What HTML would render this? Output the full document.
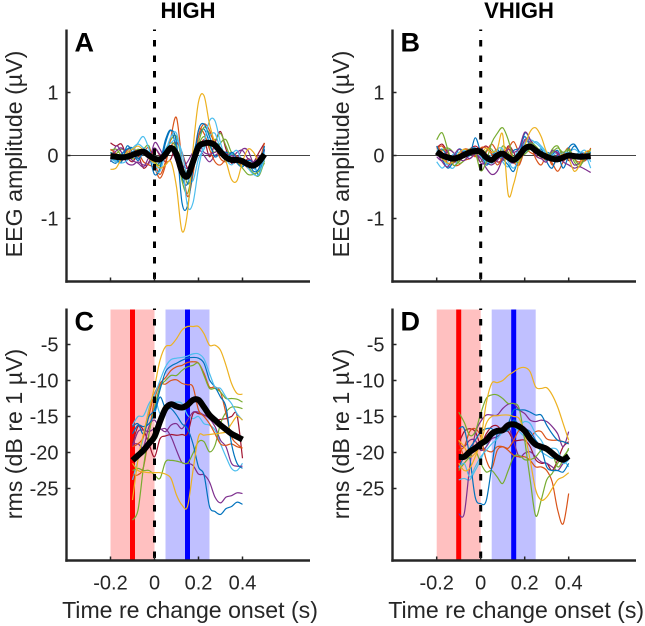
<!DOCTYPE html>
<html lang="en">
<head>
<meta charset="utf-8">
<title>EEG amplitude and rms, HIGH and VHIGH</title>
<style>
html,body{margin:0;padding:0;background:#fff;}
svg{display:block;font-family:"Liberation Sans",Arial,sans-serif;}
</style>
</head>
<body>
<svg id="chart" width="645" height="626" viewBox="0 0 645 626" xmlns="http://www.w3.org/2000/svg"></svg>
<script>
var timesEeg = [-0.2,-0.175,-0.15,-0.125,-0.1,-0.075,-0.05,-0.025,0,0.025,0.05,0.075,0.1,0.125,0.15,0.175,0.2,0.225,0.25,0.275,0.3,0.325,0.35,0.375,0.4,0.425,0.45,0.475,0.5];
var timesRms = [-0.1,-0.075,-0.05,-0.025,0,0.025,0.05,0.075,0.1,0.125,0.15,0.175,0.2,0.225,0.25,0.275,0.3,0.325,0.35,0.375,0.4];

var eegTicks = [1,0,-1];
var rmsTicks = [-5,-10,-15,-20,-25];
var timeTicks = [-0.2,0,0.2,0.4];
var timeTickLabels = ["-0.2","0","0.2","0.4"];
var preWindow = [-0.2,0];
var postWindow = [0.05,0.25];
var preLine = -0.1;
var postLine = 0.15;

var colorsA = ["#77AC30","#A2142F","#7E2F8E","#D95319","#0072BD","#77AC30","#D95319","#7E2F8E","#4DBEEE","#0072BD","#4DBEEE","#EDB120"];
var seriesA = [
 [0.05,0.03,0.1,0.05,-0.05,-0.02,0.1,0.15,-0.15,-0.1,0.05,0.25,0.3,-0.1,-0.45,-0.25,0.15,0.3,0.15,0.05,0.2,0.25,0.05,-0.02,-0.1,-0.18,-0.28,-0.32,-0.08],
 [0.2,0.15,0.18,-0.02,-0.1,0,-0.2,-0.1,0.1,0,-0.1,-0.05,0.2,0.05,-0.2,-0.15,0.05,0.25,-0.02,0.2,0.38,0.1,-0.12,-0.1,-0.15,-0.05,-0.1,0.05,0.2],
 [-0.1,0.15,0.05,-0.12,-0.15,-0.1,-0.15,-0.12,0.2,0.1,-0.05,0.1,-0.1,-0.2,-0.1,0.05,0.1,0,-0.1,0,0.05,0.05,-0.05,0.05,0.08,-0.05,-0.1,-0.02,0.05],
 [0.02,-0.08,-0.04,0.08,0.12,0.02,0.06,0.12,-0.12,-0.3,-0.1,0.15,0.2,0.05,-0.35,-0.1,0.4,0.35,0.1,-0.1,-0.15,-0.05,0.05,-0.02,-0.1,-0.2,-0.15,-0.08,0.1],
 [-0.08,-0.12,0.02,0.1,0.12,-0.05,0.05,0.05,-0.12,-0.1,0.25,0.4,0.1,-0.35,-0.45,0,0.3,0.42,0.2,-0.02,0.05,0.05,0.02,-0.12,-0.18,-0.08,-0.12,-0.3,0.1],
 [0.08,0.1,0,-0.05,0.02,0.1,0.05,-0.05,-0.1,-0.15,0.1,0.2,0.1,-0.4,-0.6,-0.2,0.2,0.45,0.35,0.25,0.35,0.15,-0.05,-0.1,-0.2,-0.3,-0.3,-0.25,-0.12],
 [0.1,0.03,-0.08,0,0.1,0.05,-0.1,-0.15,-0.2,-0.36,-0.15,0.3,0.6,-0.1,-0.65,-0.3,0.3,0.5,0.4,0.15,-0.05,-0.1,-0.05,-0.1,-0.15,-0.1,-0.18,-0.1,0.2],
 [-0.03,0.07,0.12,0.02,-0.08,-0.12,-0.18,-0.02,0.12,0.02,-0.03,0.08,-0.08,-0.15,-0.2,-0.02,0.18,0.05,0.02,0.05,0.08,0.02,0,-0.04,0.1,0.08,-0.12,-0.05,0.08],
 [-0.03,-0.08,-0.05,0.05,0.12,0.18,0.12,0.05,-0.15,-0.18,0.1,0.2,0.25,0.05,-0.35,-0.4,-0.05,0.1,0.3,0.35,0.1,0,0.02,0.08,-0.1,-0.1,-0.2,-0.22,0.05],
 [0.05,-0.05,-0.1,0.15,0.05,-0.08,0.05,0,-0.3,-0.2,0.2,0.4,0.2,-0.75,-0.8,-0.2,0.4,0.5,0.3,0.1,0.1,-0.1,0.05,-0.05,-0.15,-0.1,-0.25,-0.2,0.15],
 [-0.05,-0.1,-0.12,-0.08,0.05,0.2,0.3,0.1,-0.2,-0.25,0.05,0.3,0.35,-0.1,-0.8,-0.75,-0.2,0.2,0.55,0.55,0.2,-0.05,-0.15,-0.05,-0.1,-0.2,-0.3,-0.3,-0.05],
 [-0.22,-0.2,-0.05,0.05,0.1,0.15,0.08,-0.05,-0.12,-0.2,-0.15,-0.1,-0.5,-1.2,-0.9,0.1,0.85,0.95,0.5,0.2,0.02,-0.1,-0.38,-0.4,-0.1,0.1,0.05,-0.1,-0.05]
];
var meanA = [-0.01,-0.02,-0.03,-0.02,0.01,0.04,0.06,0,-0.05,-0.06,0.02,0.12,0.02,-0.26,-0.33,-0.1,0.14,0.19,0.2,0.165,0.06,-0.03,-0.07,-0.07,-0.09,-0.14,-0.16,-0.1,0.02];

var colorsB = ["#A2142F","#D95319","#0072BD","#4DBEEE","#77AC30","#7E2F8E","#D95319","#0072BD","#4DBEEE","#7E2F8E","#77AC30","#EDB120"];
var seriesB = [
 [0.12,0.18,0.05,-0.08,-0.1,0,0.1,0.15,0.1,0.15,0.05,-0.1,-0.05,0.15,0.05,-0.15,0.2,0.25,0.1,0,0.05,-0.08,0.02,0.05,-0.08,-0.02,0.05,0,-0.05],
 [0.1,0.15,0,-0.15,-0.15,-0.08,-0.05,0,-0.1,0.05,0.18,0.05,-0.08,0.1,0.22,0.05,0.1,0.05,0,-0.05,0.02,-0.15,-0.05,0.02,0.12,-0.05,-0.1,0.02,0.1],
 [0.05,0.1,-0.02,-0.12,-0.02,0.1,0.08,0.12,-0.02,-0.05,-0.12,-0.02,0.05,-0.05,0.08,0.12,0.3,0.15,0.1,-0.02,0.05,0.02,0.08,-0.1,0.12,0.18,0.05,0,0.08],
 [0.08,-0.02,-0.15,-0.2,-0.05,0.06,0.1,0.05,-0.02,-0.08,0.02,0.08,-0.1,-0.18,-0.05,0.1,0.05,0.12,0.22,0.15,0.05,0,0.05,0.02,0.05,0.1,0.05,0.08,-0.1],
 [0.02,0.08,0.12,0.05,-0.12,-0.08,0.02,0.05,-0.1,0.08,0.1,-0.05,0.15,0.05,-0.12,-0.02,0.02,0.1,0.12,0.05,-0.08,0.1,0.15,-0.02,0.08,-0.1,-0.18,0,0.05],
 [-0.02,-0.08,0.08,0.05,-0.05,-0.08,0.02,0.08,-0.12,-0.12,-0.15,-0.08,0.02,-0.08,-0.12,-0.02,0.25,0.2,0.05,0.02,-0.05,0.05,0.05,-0.08,-0.02,-0.15,-0.12,-0.08,-0.02],
 [0.15,0.05,-0.12,-0.12,-0.02,0.1,0.08,-0.02,0.12,0.12,0.02,-0.15,-0.02,0.12,-0.1,-0.15,0.08,0.18,-0.05,-0.15,0,-0.12,-0.25,-0.1,0.02,0.02,-0.05,-0.08,0.12],
 [0.15,-0.05,-0.2,-0.1,0.1,0.05,0,0.28,0.05,-0.15,-0.05,0.1,-0.05,-0.15,-0.25,0,0.35,0.25,0.05,0.1,-0.1,-0.2,0,-0.2,0,0.15,0.05,-0.05,0.05],
 [-0.1,-0.2,-0.1,0.02,0.05,0.08,0.05,0.1,0.02,-0.1,-0.08,0.1,0.1,-0.1,-0.2,-0.05,0.2,0.25,0.2,0.12,0.02,-0.05,-0.1,0.05,0.03,0,0.05,0.02,-0.2],
 [0.05,-0.1,-0.18,-0.02,0.1,0.02,-0.05,0.02,-0.05,-0.2,-0.3,-0.25,-0.05,0.1,0.05,0.12,0.37,0.25,0,-0.05,-0.1,0.08,0.02,-0.1,-0.15,-0.2,-0.18,-0.22,-0.27],
 [0.25,0.36,0.1,-0.15,-0.1,0.02,0.1,0.05,-0.24,-0.1,0.2,0.35,0.44,0.25,-0.05,-0.1,0.1,0.2,0.15,0.05,-0.02,0.05,0.12,0.05,0.1,-0.05,-0.15,-0.05,0.1],
 [0.03,-0.05,-0.12,-0.1,0.03,0.1,0.05,0.05,0.02,0.12,0.05,0.1,0.33,-0.62,-0.45,-0.1,0.15,0.38,0.44,0.3,0.05,-0.05,-0.03,0.02,-0.05,-0.25,-0.15,0.05,0.08]
];
var meanB = [0.06,0,-0.03,-0.05,-0.03,0.01,0.05,0.07,0.06,-0.03,-0.07,0,0.03,-0.03,-0.07,0,0.11,0.14,0.08,0.02,-0.02,-0.05,-0.06,-0.03,0,-0.01,-0.02,-0.015,-0.01];

var colorsC = ["#4DBEEE","#A2142F","#7E2F8E","#7E2F8E","#77AC30","#D95319","#D95319","#77AC30","#0072BD","#0072BD","#4DBEEE","#EDB120","#EDB120"];
var seriesC = [
 [-23.8,-21,-17.8,-13.9,-12.3,-14.6,-13.7,-13.2,-13,-13.2,-14.8,-15.3,-15,-16,-16.2,-16.9,-18.8,-20.6,-22.2,-22.5,-21.5],
 [-18.8,-16.4,-16.9,-18.8,-20.6,-18.1,-17.7,-17.5,-17.6,-17.5,-17.4,-14.6,-14.6,-14.8,-15,-15.5,-15.4,-15.3,-15,-14.8,-20.8],
 [-19.2,-17.1,-16.9,-17.1,-16.7,-16.7,-17.1,-16.2,-16,-16.7,-15.5,-14.4,-14.4,-14.8,-15.3,-16.4,-18.3,-19.2,-21.5,-21.9,-21.9],
 [-18.8,-18.8,-19.2,-16.4,-15.5,-16.7,-16.7,-17.8,-19.7,-21.4,-21.5,-21.8,-23,-23.1,-24.1,-26.2,-27,-26.2,-26,-25.6,-25.7],
 [-22.5,-22.2,-22.5,-22.5,-23.1,-23.6,-21.3,-21.1,-21.2,-21.4,-21.5,-20.1,-18.5,-18.5,-19.9,-19,-16,-14.4,-13.7,-13.7,-13.9],
 [-23.1,-23.1,-22,-17.4,-12.7,-10.6,-10.5,-10,-9.9,-10.4,-10.6,-10.9,-14.1,-15,-16,-17.4,-18.8,-19,-18.8,-19.2,-19.4],
 [-19.2,-18.8,-17.8,-14.8,-11.8,-10.4,-9.6,-8.6,-8.1,-7.9,-7.5,-7.4,-7.6,-9,-10.9,-10.9,-11.6,-14.6,-17.8,-18.8,-19.4],
 [-29.4,-28,-22,-17.4,-13.7,-10.9,-10,-9.3,-9.3,-8.6,-8.1,-7.9,-7.6,-9.3,-11.1,-11.1,-11.6,-12.5,-12.5,-12.6,-13],
 [-17.4,-16.2,-16.4,-16,-14.6,-12.3,-13.9,-13.9,-14.8,-16,-16.7,-18.8,-22,-23.1,-27.5,-28.2,-28.6,-27.8,-27.5,-26.9,-27.2],
 [-16.4,-16,-17.4,-15,-14.1,-11.3,-8.8,-8,-7.6,-7.2,-6.9,-6.8,-6.9,-7.6,-9.9,-10.9,-12.3,-13.7,-18.8,-21.5,-22.2],
 [-16.2,-15,-14.9,-13.2,-12,-10,-8.1,-7.1,-6.9,-6.8,-6.6,-6.3,-6.3,-7,-9,-10.9,-11.1,-12.3,-13.2,-14.6,-15.5],
 [-21.5,-22.5,-22.7,-22.8,-22.8,-22.8,-23,-23.6,-25.9,-27.3,-27.5,-22.5,-17.8,-17.6,-17.5,-17.4,-17.3,-17.1,-16,-15,-15.5],
 [-26.6,-21,-17.4,-14.1,-10.9,-7.2,-5.3,-5.1,-4.2,-3,-2.5,-2.5,-2.5,-3.5,-5.1,-5.1,-5.8,-7.9,-10.4,-11.8,-11.9]
];
var meanC = [-21.1,-20.4,-19.7,-18.75,-17.8,-15.7,-13.9,-13.3,-13.6,-13.75,-13.4,-12.7,-12.7,-13.7,-14.8,-15.5,-16.2,-16.8,-17.4,-17.8,-18.2];

var colorsD = ["#4DBEEE","#A2142F","#7E2F8E","#7E2F8E","#D95319","#D95319","#77AC30","#77AC30","#0072BD","#0072BD","#4DBEEE","#EDB120","#EDB120"];
var seriesD = [
 [-23.8,-23.6,-23.8,-22.5,-21,-19.2,-17.4,-16.9,-16.7,-16.4,-16.4,-17.1,-17.8,-18.3,-18.8,-19.9,-20.4,-20.8,-20.6,-21,-22],
 [-18.8,-17.1,-16.7,-17.1,-18.8,-17.4,-16.4,-16.3,-17.1,-17.1,-18.3,-18.3,-18.3,-19.2,-21,-21.5,-21.5,-22.5,-21,-19.2,-18.5],
 [-18.8,-19.2,-18.3,-18.3,-19.7,-19.2,-18.1,-17.8,-17.1,-16.4,-18.5,-20.6,-20.1,-19.9,-20.6,-21.3,-21.5,-22,-22.5,-21.5,-20.8],
 [-28.5,-28.5,-22,-17.4,-15.7,-14.8,-14.8,-14.8,-13.9,-13.3,-13.2,-14.1,-14.6,-15.5,-15.7,-15.5,-15.7,-16.4,-17.4,-19.2,-17.1],
 [-19.7,-19.2,-17.1,-16.7,-17.8,-21,-22.2,-19.7,-19.2,-19.4,-18.3,-16.9,-17.1,-17.8,-17.1,-17.1,-18.1,-18.3,-18.3,-18.5,-18.8],
 [-18.3,-20.6,-20.1,-19.2,-19.4,-19.7,-19.9,-19.2,-19.2,-19.7,-20.4,-20.6,-20.6,-21.1,-22,-22,-22.5,-24.1,-28,-29.9,-25.7],
 [-22.5,-21.5,-20.6,-19.7,-21.5,-22.7,-22.5,-23.4,-24.3,-22.5,-20.6,-20.4,-21,-21,-20.6,-19.7,-19.7,-20.1,-22,-21,-19.4],
 [-14.4,-15.8,-17.6,-17.1,-14.6,-12.5,-12,-12,-12.5,-13.2,-13.2,-13.9,-18.3,-23.8,-28.8,-26.6,-23.8,-22.9,-21.5,-20.6,-19.6],
 [-22,-20.6,-19.4,-18.3,-17.1,-16.7,-16.7,-17.4,-17.1,-16.9,-15.5,-16.2,-16.7,-17.1,-18.3,-19.4,-22,-22.5,-22.5,-22.7,-21.5],
 [-16.7,-16.7,-20.6,-26.2,-27.1,-26.7,-22,-17.4,-17.1,-16,-14.1,-14.1,-14.1,-14.4,-14.8,-14.8,-16.2,-17.4,-18.3,-18.5,-18.8],
 [-22.2,-21.5,-23.4,-22,-20.6,-19.7,-18.8,-18.1,-17.1,-16,-16,-16.2,-15.7,-16,-17.4,-18.3,-19.7,-19.4,-19.7,-21.5,-21],
 [-18.3,-19.2,-20.6,-20.1,-18.8,-16,-15,-14.9,-14.8,-14.8,-15,-15.3,-17.4,-21.1,-25.2,-26.6,-26.2,-25,-23.8,-23.4,-22.8],
 [-21.5,-22.5,-22.2,-20.6,-18.3,-13.2,-10.4,-10.3,-10,-9.3,-8.8,-8.3,-8.2,-8.8,-10.9,-11.1,-11,-12,-13.7,-16,-18.3]
];
var meanD = [-20.6,-20.6,-19.9,-19.4,-18.8,-18.3,-17.4,-17,-16.9,-16.2,-16.1,-16.4,-17,-18.1,-18.9,-19.2,-19.5,-20.1,-20.7,-21,-20.5];

var NS = "http://www.w3.org/2000/svg";
var chart = document.getElementById("chart");
var INK = "#262626";

function add(parent, tag, attrs, text) {
  var el = document.createElementNS(NS, tag);
  for (var k in attrs) { el.setAttribute(k, attrs[k]); }
  if (text !== undefined) { el.textContent = text; }
  parent.appendChild(el);
  return el;
}

function smoothPath(times, values, xf, yf) {
  var px = times.map(xf), py = values.map(yf);
  var d = "M" + px[0].toFixed(2) + " " + py[0].toFixed(2);
  for (var i = 0; i < px.length - 1; i++) {
    var a = Math.max(i - 1, 0), b = Math.min(i + 2, px.length - 1);
    d += "C" + (px[i] + (px[i + 1] - px[a]) / 6).toFixed(2) + " " + (py[i] + (py[i + 1] - py[a]) / 6).toFixed(2) +
         " " + (px[i + 1] - (px[b] - px[i]) / 6).toFixed(2) + " " + (py[i + 1] - (py[b] - py[i]) / 6).toFixed(2) +
         " " + px[i + 1].toFixed(2) + " " + py[i + 1].toFixed(2);
  }
  return d;
}

function drawPanel(cfg) {
  var g = add(chart, "g", {});
  
  

  var xf = function (t) { return cfg.x0 + t * 220; };
  var yf = function (v) { return cfg.yTop + (cfg.vTop - v) * (cfg.yBottom - cfg.yTop) / (cfg.vTop - cfg.vBottom); };

  if (cfg.windows) {
    var pre = add(g, "rect", { x: xf(preWindow[0]), y: cfg.yTop + 1, width: xf(preWindow[1]) - xf(preWindow[0]), height: cfg.yBottom - cfg.yTop - 1, fill: "#ffc0c0" });
    
    
    var post = add(g, "rect", { x: xf(postWindow[0]), y: cfg.yTop + 1, width: xf(postWindow[1]) - xf(postWindow[0]), height: cfg.yBottom - cfg.yTop - 1, fill: "#c0c0ff" });
    
    
    var rl = add(g, "line", { x1: xf(preLine), x2: xf(preLine), y1: cfg.yTop + 1, y2: cfg.yBottom, stroke: "#ff0000", "stroke-width": 5 });
    
    
    var bl = add(g, "line", { x1: xf(postLine), x2: xf(postLine), y1: cfg.yTop + 1, y2: cfg.yBottom, stroke: "#0000ff", "stroke-width": 5 });
    
    
  } else {
    var zl = add(g, "line", { x1: cfg.axisX, x2: cfg.axisRight, y1: yf(0), y2: yf(0), stroke: "#444", "stroke-width": 1 });
    
    
  }

  cfg.series.forEach(function (vals, i) {
    var p = add(g, "path", { d: smoothPath(cfg.times, vals, xf, yf), fill: "none", stroke: cfg.colors[i], "stroke-width": 1.2, "stroke-linejoin": "round" });
    
    
  });

  var on = add(g, "line", { x1: xf(0), x2: xf(0), y1: cfg.yTop, y2: cfg.yBottom, stroke: "#000", "stroke-width": 3, "stroke-dasharray": "6.5 9", "stroke-dashoffset": 5 });
  
  

  var m = add(g, "path", { d: smoothPath(cfg.times, cfg.mean, xf, yf), fill: "none", stroke: "#000", "stroke-width": 6, "stroke-linejoin": "round" });
  
  

  var ya = add(g, "line", { x1: cfg.axisX, x2: cfg.axisX, y1: cfg.yTop, y2: cfg.yBottom + 1.2, stroke: INK, "stroke-width": 2.4 });
  
  
  var xa = add(g, "line", { x1: cfg.axisX - 1.2, x2: cfg.axisRight, y1: cfg.yBottom, y2: cfg.yBottom, stroke: INK, "stroke-width": 2.4 });
  
  

  cfg.yTicks.forEach(function (v) {
    var tk = add(g, "line", { x1: cfg.axisX, x2: cfg.axisX + 4, y1: yf(v), y2: yf(v), stroke: INK, "stroke-width": 1.5 });
    
    
    var lb = add(g, "text", { x: cfg.axisX - 8, y: yf(v) + 7, "text-anchor": "end", "font-size": 20, fill: INK }, String(v));
    
    
  });

  timeTicks.forEach(function (t, i) {
    var tk = add(g, "line", { x1: xf(t), x2: xf(t), y1: cfg.yBottom, y2: cfg.yBottom - 4, stroke: INK, "stroke-width": 1.5 });
    
    
    if (cfg.windows) {
      var lb = add(g, "text", { x: xf(t), y: cfg.yBottom + 29, "text-anchor": "middle", "font-size": 20, fill: INK }, timeTickLabels[i]);
      
      
    }
  });

  var letter = add(g, "text", { x: cfg.axisX + 8, y: cfg.yTop + 22, "font-size": 27, "font-weight": "bold", fill: "#000" }, cfg.letter);
  
  

  var yl = add(g, "text", { transform: "translate(" + cfg.labelX + "," + cfg.labelCenter + ") rotate(-90)", "text-anchor": "middle", "font-size": 23.2, fill: INK }, cfg.yLabel);
  
  

  if (cfg.windows) {
    var xl = add(g, "text", { x: cfg.x0 + 35.5, y: 618, "text-anchor": "middle", "font-size": 23.1, fill: INK }, "Time re change onset (s)");
    
    
  }
}

drawPanel({ letter: "A", axisX: 66.5, axisRight: 310, x0: 154.5, yTop: 29.5, yBottom: 281.5, vTop: 2, vBottom: -2, times: timesEeg, series: seriesA, colors: colorsA, mean: meanA, yTicks: eegTicks, yLabel: "EEG amplitude (\u00b5V)", labelX: 22, labelCenter: 154, windows: false });
drawPanel({ letter: "B", axisX: 392.5, axisRight: 636, x0: 480.7, yTop: 29.5, yBottom: 281.5, vTop: 2, vBottom: -2, times: timesEeg, series: seriesB, colors: colorsB, mean: meanB, yTicks: eegTicks, yLabel: "EEG amplitude (\u00b5V)", labelX: 349, labelCenter: 154, windows: false });
drawPanel({ letter: "C", axisX: 66.5, axisRight: 310, x0: 154.5, yTop: 308.5, yBottom: 560.5, vTop: 0, vBottom: -35, times: timesRms, series: seriesC, colors: colorsC, mean: meanC, yTicks: rmsTicks, yLabel: "rms (dB re 1 \u00b5V)", labelX: 22, labelCenter: 434, windows: true });
drawPanel({ letter: "D", axisX: 392.5, axisRight: 636, x0: 480.7, yTop: 308.5, yBottom: 560.5, vTop: 0, vBottom: -35, times: timesRms, series: seriesD, colors: colorsD, mean: meanD, yTicks: rmsTicks, yLabel: "rms (dB re 1 \u00b5V)", labelX: 349, labelCenter: 434, windows: true });

var t1 = add(chart, "text", { x: 188, y: 18, "text-anchor": "middle", "font-size": 22, "font-weight": "bold", fill: "#000" }, "HIGH");


var t2 = add(chart, "text", { x: 519, y: 18, "text-anchor": "middle", "font-size": 22, "font-weight": "bold", fill: "#000" }, "VHIGH");


</script>
</body>
</html>
